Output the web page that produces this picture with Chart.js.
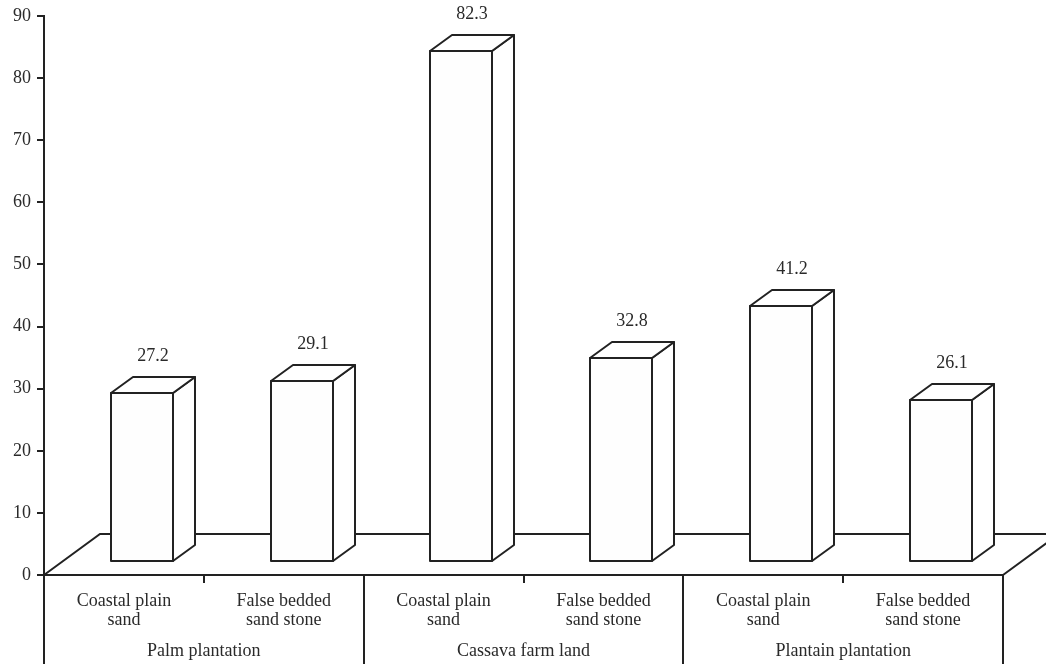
<!DOCTYPE html>
<html>
<head>
<meta charset="utf-8">
<title>Soil samples by land use</title>
<script src="https://cdn.jsdelivr.net/npm/chart.js@4.4.1/dist/chart.umd.min.js"></script>
<style>
  html, body { margin: 0; padding: 0; background: #ffffff; }
  canvas { display: block; }
</style>
</head>
<body>
<canvas id="chart" width="1046" height="664"></canvas>
<script>
// Sub-category (soil formation) labels, one per bar
const soilLabels = [
  ['Coastal plain', 'sand'],
  ['False bedded', 'sand stone'],
  ['Coastal plain', 'sand'],
  ['False bedded', 'sand stone'],
  ['Coastal plain', 'sand'],
  ['False bedded', 'sand stone']
];
// Land-use groups, each spanning two bars
const landUseGroups = ['Palm plantation', 'Cassava farm land', 'Plantain plantation'];
// Measured values
const values = [27.2, 29.1, 82.3, 32.8, 41.2, 26.1];
// Y axis range and step
const yMin = 0;
const yMax = 90;
const yStep = 10;

const INK = '#222222';
const TEXT = '#2a2a2a';
const FONT = { family: '"Liberation Serif", "Times New Roman", "DejaVu Serif", serif', size: 18, lineHeight: 1.1 };

// 3D look: floor depth, bar offset into the floor and bar depth
const FLOOR_DX = 56, FLOOR_DY = 41;
const BAR_SHIFT_X = 18, BAR_SHIFT_Y = 13;
const BAR_DX = 22, BAR_DY = 16;

const floorPlugin = {
  id: 'floor3d',
  beforeDatasetsDraw(chart) {
    const { ctx, chartArea } = chart;
    const L = chartArea.left, R = chartArea.right, B = chartArea.bottom;
    ctx.save();
    ctx.strokeStyle = INK;
    ctx.lineWidth = 2;
    ctx.lineJoin = 'miter';
    ctx.beginPath();
    ctx.moveTo(L, B);
    ctx.lineTo(L + FLOOR_DX, B - FLOOR_DY);
    ctx.lineTo(chart.width + 2, B - FLOOR_DY);
    ctx.moveTo(R, B);
    ctx.lineTo(R + FLOOR_DX, B - FLOOR_DY);
    ctx.stroke();

    // Group separators running down through the category labels
    const g = chart.scales.x2;
    const n = landUseGroups.length;
    const bounds = [g.left];
    for (let i = 0; i < n - 1; i++) {
      bounds.push((g.getPixelForTick(i) + g.getPixelForTick(i + 1)) / 2);
    }
    bounds.push(g.right);
    ctx.beginPath();
    bounds.forEach(x => {
      const px = Math.round(x);
      ctx.moveTo(px, B);
      ctx.lineTo(px, chart.height);
    });
    ctx.stroke();
    ctx.restore();
  }
};

const bars3dPlugin = {
  id: 'bars3d',
  afterDatasetsDraw(chart) {
    const { ctx } = chart;
    const meta = chart.getDatasetMeta(0);
    const data = chart.data.datasets[0].data;
    ctx.save();
    ctx.strokeStyle = INK;
    ctx.lineWidth = 2;
    ctx.lineJoin = 'round';
    meta.data.forEach((el, i) => {
      const p = el.getProps(['x', 'y', 'base', 'width'], true);
      const left = Math.round(p.x - p.width / 2 + BAR_SHIFT_X);
      const right = Math.round(left + p.width);
      const top = Math.round(p.y - BAR_SHIFT_Y);
      const bottom = Math.round(p.base - BAR_SHIFT_Y);

      // side face
      ctx.beginPath();
      ctx.moveTo(right, top);
      ctx.lineTo(right + BAR_DX, top - BAR_DY);
      ctx.lineTo(right + BAR_DX, bottom - BAR_DY);
      ctx.lineTo(right, bottom);
      ctx.closePath();
      ctx.fillStyle = '#ffffff';
      ctx.fill();
      ctx.stroke();

      // top face
      ctx.beginPath();
      ctx.moveTo(left, top);
      ctx.lineTo(left + BAR_DX, top - BAR_DY);
      ctx.lineTo(right + BAR_DX, top - BAR_DY);
      ctx.lineTo(right, top);
      ctx.closePath();
      ctx.fillStyle = '#ffffff';
      ctx.fill();
      ctx.stroke();

      // front face
      ctx.beginPath();
      ctx.rect(left, top, right - left, bottom - top);
      ctx.fillStyle = '#fefefe';
      ctx.fill();
      ctx.stroke();

      // value label above the bar
      ctx.fillStyle = TEXT;
      ctx.font = `${FONT.size}px ${FONT.family}`;
      ctx.textAlign = 'center';
      ctx.textBaseline = 'middle';
      ctx.fillText(data[i].toFixed(1), (left + right) / 2 + BAR_DX / 2, top - BAR_DY - 21);
    });
    ctx.restore();
  }
};

new Chart(document.getElementById('chart'), {
  type: 'bar',
  data: {
    labels: soilLabels,
    datasets: [{
      data: values,
      backgroundColor: 'rgba(0,0,0,0)',
      borderWidth: 0,
      categoryPercentage: 1,
      barPercentage: 0.39
    }]
  },
  options: {
    responsive: false,
    animation: false,
    devicePixelRatio: 1,
    layout: { padding: { top: 16, right: 43, bottom: 0, left: 0 } },
    plugins: {
      legend: { display: false },
      tooltip: { enabled: false }
    },
    scales: {
      y: {
        min: yMin,
        max: yMax,
        ticks: { stepSize: yStep, color: TEXT, font: FONT, padding: 6 },
        grid: { drawOnChartArea: false, drawTicks: true, tickLength: 7, color: INK, lineWidth: 2 },
        border: { display: true, color: INK, width: 2 },
        afterFit(scale) { scale.width = 44; }
      },
      x: {
        offset: true,
        ticks: { color: TEXT, font: FONT, padding: 8, maxRotation: 0, autoSkip: false },
        grid: { offset: true, drawOnChartArea: false, drawTicks: true, tickLength: 8, color: INK, lineWidth: 2 },
        border: { display: true, color: INK, width: 2 },
        afterFit(scale) { scale.height = 60; }
      },
      x2: {
        type: 'category',
        labels: landUseGroups,
        position: 'bottom',
        weight: 1,
        offset: true,
        ticks: { color: TEXT, font: FONT, padding: 6, maxRotation: 0, autoSkip: false },
        grid: { display: false, drawTicks: false },
        border: { display: false },
        afterFit(scale) { scale.height = 29; }
      }
    }
  },
  plugins: [floorPlugin, bars3dPlugin]
});
</script>
</body>
</html>
